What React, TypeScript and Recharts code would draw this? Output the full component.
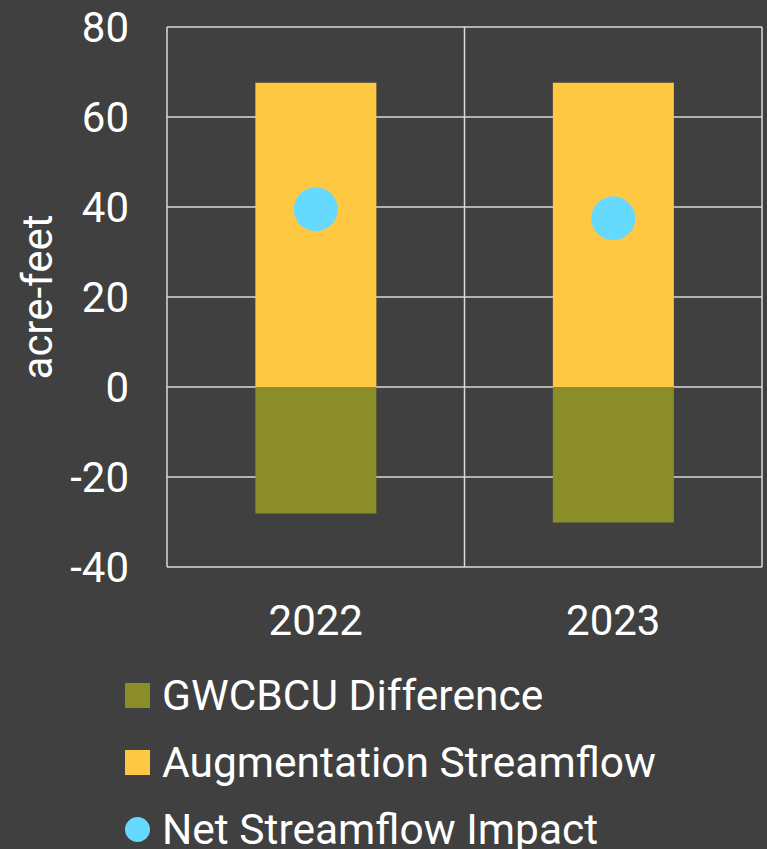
import { ComposedChart, Bar, Line, XAxis, YAxis, CartesianGrid, Legend } from 'recharts'

const years = ['2022', '2023']
const gwcbcuDifference = [-28.1, -30.1]
const augmentationStreamflow = [67.6, 67.6]
const netStreamflowImpact = [39.5, 37.5]
const yTicks = [-40, -20, 0, 20, 40, 60, 80]

const legendItems = [
    { name: 'GWCBCU Difference', color: '#8b8e28', shape: 'square' },
    { name: 'Augmentation Streamflow', color: '#ffc843', shape: 'square' },
    { name: 'Net Streamflow Impact', color: '#66d9ff', shape: 'circle' }
]

const data = years.map((year, i) => ({
    year,
    gwcbcu: gwcbcuDifference[i],
    aug: augmentationStreamflow[i],
    net: netStreamflowImpact[i]
}))

const font = 'Roboto, sans-serif'

function LegendBox() {
    return (
        <div style={{ height: 186, paddingTop: 15, paddingLeft: 125, boxSizing: 'border-box', overflow: 'visible' }}>
            {legendItems.map((item) => (
                <div key={item.name} style={{ display: 'flex', alignItems: 'center', height: 67 }}>
                    <span
                        style={{
                            width: 25,
                            height: 25,
                            background: item.color,
                            borderRadius: item.shape === 'circle' ? '50%' : 0,
                            marginRight: 12,
                            flexShrink: 0
                        }}
                    />
                    <span style={{ color: '#ffffff', fontSize: 42.5, fontFamily: font, whiteSpace: 'nowrap' }}>{item.name}</span>
                </div>
            ))}
        </div>
    )
}

export default function App() {
    return (
        <div style={{ position: 'absolute', left: 0, top: 0, width: 767, height: 849, background: '#404040', overflow: 'hidden', fontFamily: font }}>
            <ComposedChart
                width={767}
                height={849}
                data={data}
                stackOffset="sign"
                barCategoryGap="29.7%"
                margin={{ top: 27, right: 5, left: 0, bottom: 16 }}
            >
                <CartesianGrid
                    stroke="#d9d9d9"
                    strokeWidth={1.5}
                    verticalCoordinatesGenerator={({ offset }: any) => [
                        offset.left,
                        offset.left + offset.width / 2,
                        offset.left + offset.width
                    ]}
                />
                <XAxis
                    dataKey="year"
                    axisLine={false}
                    tickLine={false}
                    tickMargin={32}
                    height={80}
                    tick={{ fill: '#ffffff', fontSize: 42, fontFamily: font }}
                />
                <YAxis
                    width={167}
                    domain={[-40, 80]}
                    ticks={yTicks}
                    axisLine={false}
                    tickLine={false}
                    tickMargin={32}
                    tick={{ fill: '#ffffff', fontSize: 42, fontFamily: font }}
                    label={{ value: 'acre-feet', angle: -90, position: 'center', dx: -46.5, fill: '#ffffff', fontSize: 42, fontFamily: font }}
                />
                <Legend verticalAlign="bottom" align="left" content={() => <LegendBox />} />
                <Bar dataKey="gwcbcu" name="GWCBCU Difference" stackId="a" fill="#8b8e28" isAnimationActive={false} />
                <Bar dataKey="aug" name="Augmentation Streamflow" stackId="a" fill="#ffc843" isAnimationActive={false} />
                <Line
                    dataKey="net"
                    name="Net Streamflow Impact"
                    stroke="none"
                    dot={{ r: 22, fill: '#66d9ff', stroke: 'none' }}
                    activeDot={false}
                    legendType="circle"
                    isAnimationActive={false}
                />
            </ComposedChart>
        </div>
    )
}
